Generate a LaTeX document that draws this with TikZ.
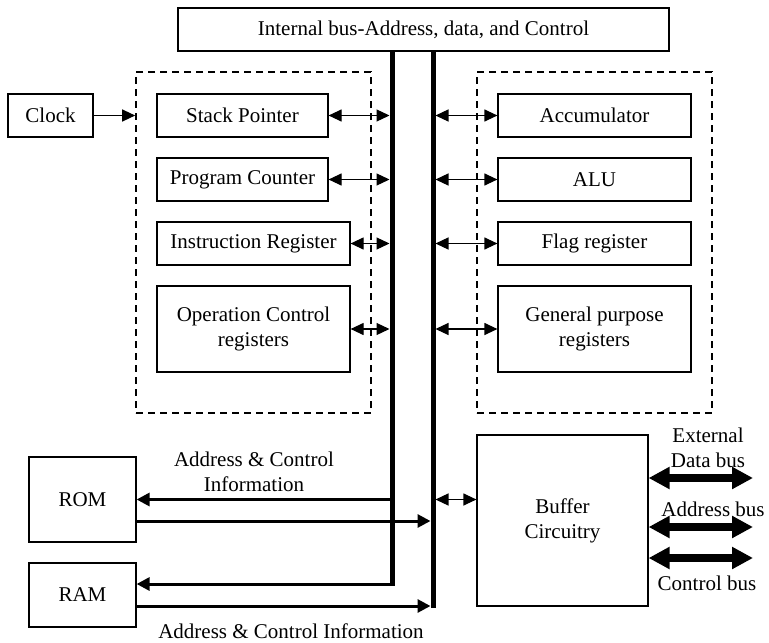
\documentclass[tikz,border=0pt]{standalone}
\usepackage{fontspec}
\setmainfont{Liberation Serif}
\usepackage{tikz}
\usetikzlibrary{positioning, arrows.meta, calc}

\begin{document}
\begin{tikzpicture}[
        x=1pt, y=-1pt,
        every node/.style={font=\fontsize{21}{25}\selectfont},
        box/.style={draw, line width=1.2pt, inner sep=2pt, align=center},
        group/.style={draw, dashed, line width=1.6pt, dash pattern=on 7pt off 5pt},
        txt/.style={align=center, inner sep=0pt},
        bus/.style={line width=5pt},
        arr/.style={line width=1.2pt, -{Triangle[length=13pt, width=12pt]}},
        darr/.style={line width=1.2pt, {Triangle[length=13pt, width=12pt]}-{Triangle[length=13pt, width=12pt]}},
        memarr/.style={line width=3pt, -{Triangle[length=13pt, width=13pt]}},
        extarr/.style={line width=7.5pt, {Triangle[length=21pt, width=21pt]}-{Triangle[length=21pt, width=21pt]}}
      ]
      \useasboundingbox (0,0) rectangle (769,643);

      % internal bus
      \node[box, minimum width=491pt, minimum height=43pt] (ibus) at (423.5,29.5)
        {Internal bus-Address, data, and Control};
      \coordinate (lbtop) at (392,51);
      \coordinate (lbbot) at (392,585.5);
      \coordinate (rbtop) at (433,51);
      \coordinate (rbbot) at (433,607.5);
      \draw[bus] (lbtop) -- (lbbot);
      \draw[bus] (rbtop) -- (rbbot);

      % register groups
      \node[group, minimum width=235pt, minimum height=341pt] (lgrp) at (253.5,242.5) {};
      \node[group, minimum width=235pt, minimum height=341pt] (rgrp) at (594.5,242.5) {};

      \node[box, minimum width=85pt, minimum height=43pt] (clk) at (50.5,115.5) {Clock};
      \node[box, minimum width=171pt, minimum height=43pt] (sp) at (242.5,115.5) {Stack Pointer};
      \node[box, minimum width=171pt, minimum height=43pt] (pc) at (242.5,179.5) {Program Counter};
      \node[box, minimum width=193pt, minimum height=43pt] (ir) at (253.5,243.5) {Instruction Register};
      \node[box, minimum width=193pt, minimum height=86pt] (ocr) at (253.5,329) {Operation Control\\registers};

      \node[box, minimum width=193pt, minimum height=43pt] (acc) at (594.5,115.5) {Accumulator};
      \node[box, minimum width=193pt, minimum height=43pt] (alu) at (594.5,179.5) {ALU};
      \node[box, minimum width=193pt, minimum height=43pt] (flag) at (594.5,243.5) {Flag register};
      \node[box, minimum width=193pt, minimum height=86pt] (gpr) at (594.5,329) {General purpose\\registers};

      \draw[arr] (clk) -- (clk -| lgrp.west);
      \foreach \r in {sp, pc, ir, ocr}
        \draw[darr, shorten >=2.5pt] (\r.east) -- (\r.east -| lbtop);
      \foreach \r in {acc, alu, flag, gpr}
        \draw[darr, shorten <=2.5pt] (\r.west -| rbtop) -- (\r.west);

      % memory
      \node[box, minimum width=107pt, minimum height=85pt] (rom) at (82.5,499.5) {ROM};
      \node[box, minimum width=107pt, minimum height=64pt] (ram) at (82.5,595) {RAM};
      \coordinate (romout) at ($(rom.east)+(0,21.5)$);
      \coordinate (ramin) at ($(ram.east)+(0,-11)$);
      \coordinate (ramout) at ($(ram.east)+(0,11)$);
      \draw[memarr] (rom.east -| lbtop) -- (rom.east);
      \draw[memarr, shorten >=2.5pt] (romout) -- (romout -| rbtop);
      \draw[memarr] (ramin -| lbtop) -- (ramin);
      \draw[memarr, shorten >=2.5pt] (ramout) -- (ramout -| rbtop);
      \node[txt] (romlbl) at (254,472) {Address \& Control\\Information};
      \node[txt] (ramlbl) at (291,631) {Address \& Control Information};

      % buffer and external buses
      \node[box, minimum width=171pt, minimum height=171pt] (buf) at (562.5,520.5) {Buffer\\Circuitry};
      \draw[darr, shorten <=2.5pt] (rom.east -| rbtop) -- (rom.east -| buf.west);
      \coordinate (dbus) at (753,478);
      \coordinate (abus) at (753,527);
      \coordinate (cbus) at (753,558);
      \foreach \b in {dbus, abus, cbus}
        \draw[extarr] (buf.east |- \b) -- (\b);
      \node[txt] (dlbl) at (708,448) {External\\Data bus};
      \node[txt] (albl) at (713,509) {Address bus};
      \node[txt] (clbl) at (707,583) {Control bus};
    \end{tikzpicture}
\end{document}
